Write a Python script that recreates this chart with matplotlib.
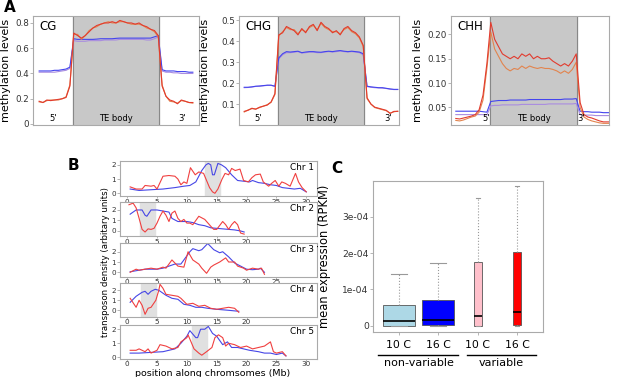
import numpy as np
import matplotlib.pyplot as plt

W, H = 617, 377

# ---------------- A: methylation over TEs (5' flank | TE body | 3' flank)
pos = np.arange(0, 101, 2.5)

cg_red = [0.18, 0.17, 0.19, 0.185, 0.19, 0.195, 0.20, 0.21, 0.30,
          0.72, 0.70, 0.68, 0.70, 0.73, 0.76, 0.78, 0.79, 0.80, 0.80, 0.81, 0.80,
          0.82, 0.81, 0.80, 0.80, 0.79, 0.80, 0.78, 0.77, 0.75, 0.74, 0.70,
          0.30, 0.22, 0.19, 0.18, 0.16, 0.19, 0.18, 0.17, 0.17]
cg_orange = [0.175, 0.17, 0.185, 0.19, 0.19, 0.19, 0.20, 0.215, 0.31,
             0.71, 0.71, 0.67, 0.70, 0.74, 0.76, 0.77, 0.79, 0.80, 0.81, 0.80, 0.80,
             0.81, 0.81, 0.80, 0.79, 0.79, 0.79, 0.78, 0.76, 0.75, 0.73, 0.69,
             0.31, 0.22, 0.18, 0.175, 0.165, 0.185, 0.18, 0.17, 0.165]
cg_blue = [0.42, 0.42, 0.42, 0.42, 0.425, 0.425, 0.43, 0.435, 0.45,
           0.675, 0.67, 0.67, 0.67, 0.67, 0.67, 0.672, 0.675, 0.675, 0.675, 0.675, 0.678,
           0.68, 0.68, 0.68, 0.68, 0.68, 0.68, 0.68, 0.68, 0.68, 0.69, 0.70,
           0.43, 0.42, 0.42, 0.42, 0.415, 0.415, 0.415, 0.41, 0.41]
cg_purple = [0.41, 0.41, 0.41, 0.41, 0.41, 0.415, 0.42, 0.425, 0.44,
             0.66, 0.655, 0.655, 0.655, 0.66, 0.66, 0.66, 0.66, 0.665, 0.665, 0.665, 0.665,
             0.67, 0.67, 0.67, 0.67, 0.67, 0.67, 0.67, 0.665, 0.665, 0.675, 0.69,
             0.42, 0.41, 0.41, 0.405, 0.405, 0.40, 0.40, 0.40, 0.40]

chg_red = [0.065, 0.07, 0.08, 0.075, 0.085, 0.09, 0.095, 0.11, 0.15,
           0.43, 0.44, 0.47, 0.46, 0.45, 0.43, 0.46, 0.44, 0.47, 0.48, 0.45, 0.49,
           0.47, 0.46, 0.44, 0.45, 0.43, 0.46, 0.47, 0.45, 0.44, 0.42, 0.38,
           0.13, 0.10, 0.085, 0.08, 0.075, 0.07, 0.055, 0.065, 0.065]
chg_orange = [0.062, 0.072, 0.078, 0.077, 0.083, 0.09, 0.097, 0.108, 0.145,
              0.425, 0.445, 0.465, 0.455, 0.455, 0.435, 0.455, 0.445, 0.465, 0.475, 0.455, 0.485,
              0.465, 0.455, 0.445, 0.445, 0.435, 0.455, 0.465, 0.445, 0.435, 0.415, 0.375,
              0.125, 0.10, 0.083, 0.078, 0.073, 0.068, 0.057, 0.063, 0.066]
chg_blue = [0.18, 0.18, 0.182, 0.185, 0.186, 0.188, 0.19, 0.19, 0.185,
            0.32, 0.34, 0.35, 0.348, 0.35, 0.352, 0.345, 0.348, 0.35, 0.35, 0.348, 0.347,
            0.35, 0.352, 0.35, 0.353, 0.355, 0.352, 0.35, 0.352, 0.35, 0.348, 0.34,
            0.185, 0.182, 0.18, 0.178, 0.178, 0.175, 0.172, 0.17, 0.17]
chg_purple = [0.178, 0.179, 0.181, 0.184, 0.185, 0.187, 0.189, 0.189, 0.184,
              0.315, 0.335, 0.345, 0.345, 0.347, 0.35, 0.343, 0.345, 0.348, 0.348, 0.345, 0.345,
              0.348, 0.35, 0.348, 0.35, 0.353, 0.35, 0.348, 0.35, 0.348, 0.345, 0.335,
              0.183, 0.18, 0.178, 0.177, 0.176, 0.174, 0.171, 0.169, 0.169]

chh_red = [0.027, 0.026, 0.028, 0.03, 0.032, 0.035, 0.045, 0.075, 0.14,
           0.225, 0.19, 0.175, 0.16, 0.155, 0.15, 0.155, 0.15, 0.16, 0.155, 0.16, 0.15,
           0.155, 0.15, 0.15, 0.152, 0.145, 0.14, 0.135, 0.14, 0.135, 0.145, 0.16,
           0.06, 0.035, 0.03, 0.028, 0.025, 0.022, 0.02, 0.02, 0.02]
chh_orange = [0.023, 0.022, 0.024, 0.027, 0.03, 0.032, 0.04, 0.065, 0.13,
              0.205, 0.17, 0.155, 0.14, 0.13, 0.125, 0.13, 0.128, 0.135, 0.13, 0.135, 0.132,
              0.13, 0.132, 0.13, 0.13, 0.128, 0.125, 0.12, 0.125, 0.12, 0.128, 0.143,
              0.05, 0.03, 0.025, 0.022, 0.02, 0.018, 0.017, 0.017, 0.017]
chh_blue = [0.042, 0.042, 0.042, 0.042, 0.042, 0.042, 0.042, 0.041, 0.04,
            0.062, 0.063, 0.064, 0.064, 0.064, 0.065, 0.065, 0.065, 0.065, 0.065, 0.066, 0.066,
            0.066, 0.066, 0.066, 0.066, 0.066, 0.066, 0.066, 0.067, 0.067, 0.067, 0.068,
            0.042, 0.041, 0.041, 0.04, 0.04, 0.04, 0.039, 0.039, 0.039]
chh_purple = [0.035, 0.035, 0.035, 0.035, 0.035, 0.035, 0.035, 0.035, 0.034,
              0.053, 0.054, 0.054, 0.055, 0.055, 0.055, 0.055, 0.055, 0.056, 0.056, 0.056, 0.056,
              0.056, 0.056, 0.056, 0.057, 0.057, 0.057, 0.057, 0.057, 0.057, 0.057, 0.058,
              0.035, 0.034, 0.034, 0.034, 0.033, 0.033, 0.033, 0.033, 0.033]

# ---------------- B: transposon density along chromosomes
c1_red_x = [0.5, 1.5, 2.5, 3, 4, 4.5, 5, 6, 7, 8, 8.5, 9, 9.5, 10, 10.6, 11.4, 12, 12.8, 13.3, 13.8,
            14.3, 14.7, 15.2, 15.9, 16.4, 17, 17.5, 18.1, 18.9, 19.5, 20.3, 20.9, 21.5, 22.3, 22.8,
            23.7, 24.2, 24.8, 25.4, 25.9, 26.5, 27.3, 28.2, 28.7, 29.3, 30]
c1_red_y = [0.45, 0.3, 0.3, 0.55, 0.5, 0.55, 0.3, 1.2, 1.25, 1.2, 1.0, 0.6, 0.8, 0.7, 1.8, 1.3, 1.5, 1.4, 0.9, 0.4,
            0.1, 0.0, 0.3, 1.0, 1.4, 1.3, 1.75, 1.6, 1.7, 0.9, 0.8, 1.1, 1.3, 1.35, 0.8,
            0.5, 0.7, 0.9, 0.5, 0.8, 0.7, 0.5, 1.4, 0.8, 0.4, 0.1]
c1_blue_x = [0.5, 2, 4, 6, 8, 9.5, 10.5, 11.5, 12, 12.5, 13.2, 13.6, 14.0, 14.3, 14.6, 15.2, 15.8, 16.5,
             17.5, 18.5, 19.5, 20.5, 21, 22, 23, 24, 25, 26, 27, 28, 29, 30]
c1_blue_y = [0.3, 0.2, 0.25, 0.3, 0.4, 0.5, 0.55, 0.8, 1.2, 1.6, 2.0, 2.1, 2.0, 1.3, 1.3, 2.1, 2.0, 1.8,
             1.3, 0.9, 0.85, 0.8, 0.9, 0.75, 0.7, 0.6, 0.55, 0.4, 0.35, 0.3, 0.35, 0.1]

c2_red_x = [0.3, 1, 1.5, 2, 2.5, 3, 3.5, 4, 4.5, 5, 5.5, 6, 6.5, 7, 7.5, 8, 8.5, 9, 9.5, 10,
            10.5, 11, 12, 12.5, 13, 14, 14.5, 15, 16, 16.5, 17, 17.5, 18, 18.5, 19, 19.6]
c2_red_y = [2.5, 2.65, 2.2, 1.2, 0.15, -0.1, 0.2, 0.15, 0.25, 0.75, 1.4, 1.9, 1.5, 0.9, 1.7, 1.9, 1.2, 0.9, 1.1, 0.75,
            0.75, 0.6, 1.4, 1.25, 1.1, 0.45, 0.15, 0.15, 0.9, 0.6, 0.15, 0.6, 0.9, 0.6, -0.2, -0.3]
c2_blue_x = [0.5, 1.5, 2.5, 3, 3.3, 4, 5, 6, 7, 7.5, 8.5, 10, 11, 12, 13, 14, 15, 16, 17, 18, 19, 19.6]
c2_blue_y = [1.6, 2.0, 2.0, 1.5, 1.4, 2.0, 2.0, 1.9, 1.8, 1.2, 0.9, 0.9, 0.8, 0.6, 0.5, 0.3, 0.25, 0.2,
             0.15, 0.1, 0.0, -0.1]

c3_red_x = [0.5, 1.5, 2, 3, 4, 5, 6, 6.5, 7.5, 8.5, 9.5, 10.2, 11, 12, 12.5, 13.3, 14, 14.5, 15.5, 16.5,
            17, 18, 18.5, 19.5, 20, 21, 22, 22.5, 23]
c3_red_y = [0.0, 0.3, 0.2, 0.3, 0.4, 0.3, 0.5, 0.4, 1.2, 0.6, 0.5, 2.0, 1.2, 0.8, 0.4, -0.1, 0.5, 0.7, 1.0, 1.4,
            1.0, 1.0, 0.6, 0.4, 0.2, 0.4, 0.3, 0.4, -0.2]
c3_blue_x = [0.5, 2, 3, 5, 6, 7, 8, 9, 9.5, 10.5, 11, 12, 12.5, 13.5, 14.5, 15.5, 16, 17, 18, 19, 20,
             21, 22, 22.3, 23]
c3_blue_y = [0.05, 0.2, 0.3, 0.3, 0.4, 0.6, 0.8, 0.8, 1.2, 2.0, 2.3, 2.1, 2.2, 2.8, 2.2, 1.9, 2.0, 1.5,
             0.9, 0.6, 0.3, 0.25, 0.3, 0.4, 0.0]

c4_red_x = [0.5, 1.5, 2, 2.5, 3, 3.5, 4, 4.8, 5.3, 5.5, 6, 6.5, 7.5, 8.5, 9, 9.5, 10, 11, 12, 13,
            14, 15, 16, 17, 18, 18.7]
c4_red_y = [1.2, 0.3, 1.0, 0.5, -0.4, 0.2, 0.3, 1.0, 2.0, 2.6, 2.2, 1.6, 1.5, 1.4, 1.2, 0.9, 0.6, 0.7, 0.4, 0.5,
            0.2, 0.1, 0.2, 0.3, 0.2, -0.2]
c4_blue_x = [0.5, 1.5, 2.5, 3, 3.5, 4, 4.7, 5.3, 6.5, 7.5, 8.5, 9.5, 10.5, 11.5, 12.5, 13.5, 15, 17, 18.7]
c4_blue_y = [0.8, 1.4, 1.8, 1.9, 1.6, 1.9, 2.1, 2.0, 1.5, 1.2, 1.1, 0.6, 0.5, 0.3, 0.3, 0.2, 0.1, 0.0, -0.1]

c5_red_x = [0.5, 1.5, 2, 3, 3.5, 4, 5, 5.5, 6.5, 7.5, 8.5, 9, 10, 10.2, 10.7, 11.2, 12, 12.5, 13.3, 14.2,
            14.7, 15.3, 16, 16.5, 17, 18, 19, 20, 21, 22, 23, 24, 24.5, 25, 26, 26.6]
c5_red_y = [0.5, 0.5, 0.6, 0.4, 0.6, 0.3, 0.5, 0.9, 0.8, 0.6, 0.7, 1.1, 1.4, 1.6, 1.1, 0.6, 0.3, 0.15, 0.4, 0.7,
            1.4, 1.6, 1.4, 0.8, 1.0, 0.9, 0.7, 0.8, 0.6, 0.7, 0.8, 1.1, 0.4, 0.3, 0.4, 0.1]
c5_blue_x = [0.5, 2, 4, 6, 8, 9, 10, 10.5, 11.5, 11.8, 12.3, 13, 13.6, 14.3, 15, 16, 16.8, 17.5, 18.5,
             19.5, 20.5, 22, 23, 24, 25, 26, 26.6]
c5_blue_y = [0.3, 0.3, 0.35, 0.4, 0.6, 1.0, 1.5, 1.9, 1.4, 1.4, 2.0, 2.0, 2.2, 1.7, 1.5, 0.9, 1.1, 0.7, 0.7,
             0.6, 0.5, 0.4, 0.3, 0.3, 0.2, 0.3, 0.1]

chr_names = ['Chr 1', 'Chr 2', 'Chr 3', 'Chr 4', 'Chr 5']
chr_spans = [(13.1, 15.6), (2.2, 4.7), None, (2.3, 4.9), (10.9, 13.3)]
chr_xticks = [30, 20, 25, 20, 30]

# ---------------- C: expression boxplots
groups = ['10 C', '16 C', '10 C', '16 C']
q1 = [0.0, 0.01e-4, 0.0, 0.03e-4]
med = [0.13e-4, 0.15e-4, 0.28e-4, 0.37e-4]
q3 = [0.58e-4, 0.70e-4, 1.75e-4, 2.02e-4]
whi_lo = [0.0, 0.0, 0.0, 0.0]
whi_hi = [1.42e-4, 1.72e-4, 3.52e-4, 3.83e-4]
box_colors = ['#add8e6', '#0000ff', '#ffc0cb', '#ff0000']


def px_axes(fig, l, t, r, b):
    return fig.add_axes([l / W, 1 - b / H, (r - l) / W, (b - t) / H])


def style(ax, size):
    for s in ax.spines.values():
        s.set_color('#aaaaaa')
        s.set_linewidth(0.8)
    ax.tick_params(labelsize=size, length=2, width=0.5, color='#999999',
                   labelcolor='#333333', pad=1)


fig = plt.figure(figsize=(W / 100, H / 100), dpi=100)

red, orange, blue, purple = '#e23b2e', '#e2844e', '#4444ee', '#a98ce0'

panels = [
    ('CG', (33, 16, 199, 125), (-4.0, 104.0), (-0.008, 0.855), [0, 0.2, 0.4, 0.6, 0.8],
     ['0', '0.2', '0.4', '0.6', '0.8'], (cg_red, cg_orange, cg_blue, cg_purple), (9, 93), -0.133),
    ('CHG', (239, 16, 399, 125), (-3.4, 100.8), (0.0, 0.52), [0.1, 0.2, 0.3, 0.4, 0.5],
     ['0.1', '0.2', '0.3', '0.4', '0.5'], (chg_red, chg_orange, chg_blue, chg_purple), (9, 93.5), -0.18),
    ('CHH', (451, 16, 609, 125), (-3.1, 98.6), (0.0136, 0.238), [0.05, 0.10, 0.15, 0.20],
     ['0.05', '0.10', '0.15', '0.20'], (chh_red, chh_orange, chh_blue, chh_purple), (19.5, 80.5), -0.177),
]

for name, rect, xl, yl, yt, ytl, lines, (p5, p3), labx in panels:
    ax = px_axes(fig, *rect)
    ax.axvspan(22, 78, color='#c8c8c8', zorder=0)
    ax.axvline(22, color='#888888', lw=0.8, zorder=1)
    ax.axvline(78, color='#888888', lw=0.8, zorder=1)
    ax.plot(pos, lines[3], color=purple, lw=0.8)
    ax.plot(pos, lines[2], color=blue, lw=0.8)
    ax.plot(pos, lines[1], color=orange, lw=0.8)
    ax.plot(pos, lines[0], color=red, lw=0.8)
    ax.set_xlim(*xl)
    ax.set_ylim(*yl)
    ax.set_xticks([])
    ax.set_yticks(yt)
    ax.set_yticklabels(ytl)
    style(ax, 6.3)
    ax.set_ylabel('methylation levels', fontsize=8)
    ax.yaxis.set_label_coords(labx, 0.5)
    ax.text(0.04, 0.96, name, transform=ax.transAxes, fontsize=8.5, va='top', ha='left')
    tr = ax.get_xaxis_transform()
    ax.text(p5, 0.02, "5'", transform=tr, fontsize=6, ha='center', va='bottom')
    ax.text(50, 0.02, 'TE body', transform=tr, fontsize=6, ha='center', va='bottom')
    ax.text(p3, 0.02, "3'", transform=tr, fontsize=6, ha='center', va='bottom')

# panel B
b_rows = [(161, 196), (202, 236), (243, 277), (283, 317), (325, 359)]
b_ylims = [(-0.19, 2.27), (-0.48, 2.76), (-0.46, 2.85), (-0.67, 2.73), (-0.12, 2.3)]
b_red = [(c1_red_x, c1_red_y), (c2_red_x, c2_red_y), (c3_red_x, c3_red_y),
         (c4_red_x, c4_red_y), (c5_red_x, c5_red_y)]
b_blue = [(c1_blue_x, c1_blue_y), (c2_blue_x, c2_blue_y), (c3_blue_x, c3_blue_y),
          (c4_blue_x, c4_blue_y), (c5_blue_x, c5_blue_y)]

for i in range(5):
    top, bot = b_rows[i]
    ax = px_axes(fig, 120, top, 317, bot)
    if chr_spans[i] is not None:
        ax.axvspan(chr_spans[i][0], chr_spans[i][1], color='#e0e0e0', zorder=0)
    ax.plot(b_blue[i][0], b_blue[i][1], color='#4646e6', lw=0.8)
    ax.plot(b_red[i][0], b_red[i][1], color='#f04040', lw=0.8)
    ax.set_xlim(-1.2, 31.8)
    ax.set_ylim(*b_ylims[i])
    ax.set_xticks(np.arange(0, chr_xticks[i] + 1, 5))
    ax.set_yticks([0, 1, 2])
    style(ax, 5.2)
    ax.tick_params(axis='x', pad=0.3, length=1.5)
    ax.text(0.985, 0.93, chr_names[i], transform=ax.transAxes, fontsize=6.4, ha='right', va='top')

fig.text(105 / W, 1 - 262 / H, 'transposon density (arbitary units)', rotation=90,
         fontsize=6.2, ha='center', va='center')
fig.text(213 / W, 1 - 373 / H, 'position along chromsomes (Mb)', fontsize=6.8,
         ha='center', va='center')

# panel C
ax = px_axes(fig, 373, 181, 543, 332)
stats = []
for i in range(4):
    stats.append({'q1': q1[i], 'med': med[i], 'q3': q3[i],
                  'whislo': whi_lo[i], 'whishi': whi_hi[i], 'fliers': []})
widths = [0.81, 0.81, 0.2, 0.2]
bp = ax.bxp(stats, positions=[1, 2, 3, 4], widths=widths, capwidths=[w * 0.5 for w in widths],
            patch_artist=True,
            boxprops=dict(edgecolor='#555555', linewidth=0.6),
            medianprops=dict(color='black', linewidth=1.2),
            whiskerprops=dict(color='#999999', linestyle=':', linewidth=0.8),
            capprops=dict(color='#999999', linewidth=0.8))
for patch, c in zip(bp['boxes'], box_colors):
    patch.set_facecolor(c)
ax.set_xlim(0.34, 4.66)
ax.set_ylim(-0.17e-4, 3.98e-4)
ax.set_yticks([0, 1e-4, 2e-4, 3e-4])
ax.set_yticklabels(['0', '1e-04', '2e-04', '3e-04'])
ax.set_xticks([1, 2, 3, 4])
ax.set_xticklabels(groups)
style(ax, 6.6)
ax.tick_params(axis='x', labelsize=7.8, labelcolor='black', pad=4)
ax.set_ylabel('mean expression (RPKM)', fontsize=8.3)
ax.yaxis.set_label_coords((331 - 373) / 170, 0.5)
tr = ax.get_xaxis_transform()
ax.plot([0.47, 2.5], [-0.152, -0.152], color='black', lw=1.0, transform=tr, clip_on=False)
ax.plot([2.73, 4.49], [-0.152, -0.152], color='black', lw=1.0, transform=tr, clip_on=False)
ax.text(1.5, -0.205, 'non-variable', transform=tr, fontsize=8, ha='center', va='center')
ax.text(3.6, -0.205, 'variable', transform=tr, fontsize=8, ha='center', va='center')

# panel letters
fig.text(4 / W, 1 - 8 / H, 'A', fontsize=11, fontweight='bold', va='center')
fig.text(68 / W, 1 - 165 / H, 'B', fontsize=11, fontweight='bold', va='center')
fig.text(331 / W, 1 - 168 / H, 'C', fontsize=11, fontweight='bold', va='center')

plt.savefig('out.png', dpi=100)
